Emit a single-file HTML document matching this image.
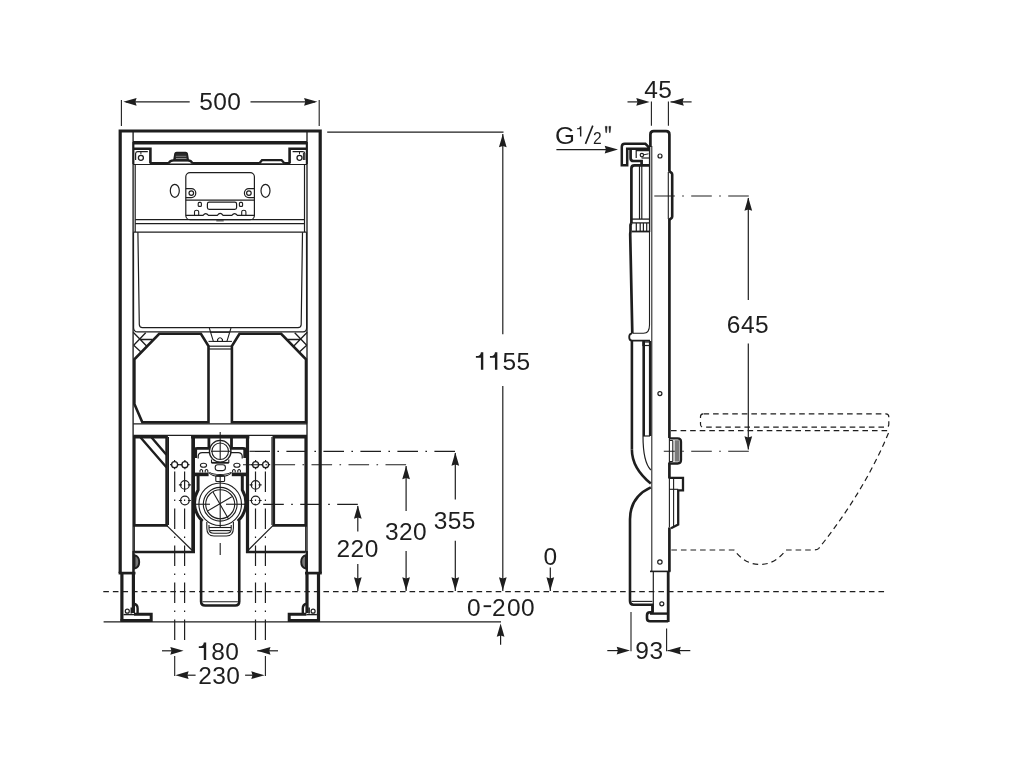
<!DOCTYPE html>
<html><head><meta charset="utf-8"><style>
html,body{margin:0;padding:0;background:#fff;width:1024px;height:768px;overflow:hidden}
svg{display:block;will-change:transform}
text{font-family:"Liberation Sans",sans-serif}
</style></head><body>
<svg width="1024" height="768" viewBox="0 0 1024 768" stroke="#1e1e1e" fill="none">
<rect x="0" y="0" width="1024" height="768" fill="#fff" stroke="none"/>
<path d="M120.2,573 V131 H320.2 V573" stroke-width="3.2" fill="none" stroke-linejoin="miter"/>
<line x1="118.6" y1="573.1" x2="135.5" y2="573.1" stroke-width="2.7" stroke-linecap="butt"/>
<line x1="305" y1="573.1" x2="321.8" y2="573.1" stroke-width="2.7" stroke-linecap="butt"/>
<line x1="133.1" y1="131" x2="133.1" y2="573" stroke-width="1.35" stroke-linecap="butt"/>
<line x1="133.4" y1="142" x2="133.4" y2="164" stroke-width="2.0" stroke-linecap="butt"/>
<line x1="307" y1="131" x2="307" y2="573" stroke-width="1.35" stroke-linecap="butt"/>
<line x1="306.8" y1="142" x2="306.8" y2="164" stroke-width="2.0" stroke-linecap="butt"/>
<line x1="133" y1="142.8" x2="307" y2="142.8" stroke-width="3.4" stroke-linecap="butt"/>
<path d="M133,148.7 H150.4 V163.5" stroke-width="2.6" fill="none" stroke-linejoin="miter"/>
<path d="M307,148.7 H289.6 V163.5" stroke-width="2.6" fill="none" stroke-linejoin="miter"/>
<line x1="150" y1="163.3" x2="290" y2="163.3" stroke-width="2.6" stroke-linecap="butt"/>
<line x1="133" y1="164.5" x2="307" y2="164.5" stroke-width="1.2" stroke-linecap="butt"/>
<path d="M135.6,160 V153.5 Q135.8,151.6 137.8,151.6 H147.8" stroke-width="1.2" fill="none" stroke-linejoin="miter"/>
<path d="M304.8,160 V153.5 Q304.6,151.6 302.6,151.6 H292.6" stroke-width="1.2" fill="none" stroke-linejoin="miter"/>
<circle cx="140.9" cy="157.8" r="2.5" stroke-width="1.3" fill="none"/>
<circle cx="299.5" cy="157.8" r="2.5" stroke-width="1.3" fill="none"/>
<line x1="140.9" y1="151.8" x2="140.9" y2="154.2" stroke-width="1.0" stroke-linecap="butt"/>
<line x1="299.5" y1="151.8" x2="299.5" y2="154.2" stroke-width="1.0" stroke-linecap="butt"/>
<line x1="303.4" y1="153" x2="303.4" y2="160" stroke-width="1.0" stroke-linecap="butt"/>
<path d="M168.6,163.5 Q169.5,160.6 173.5,160.4 H188 Q191.6,160.6 192.4,163.5" stroke-width="2.2" fill="#fff" stroke-linejoin="miter"/>
<path d="M173.9,160.4 L175,153.8 Q175.3,152.5 176.6,152.5 H185.6 Q186.9,152.5 187.2,153.8 L188.3,160.4 Z" stroke-width="1.6" fill="#2a2a2a" stroke-linejoin="miter"/>
<line x1="176" y1="156.3" x2="186.3" y2="156.3" stroke-width="0.8" stroke-linecap="butt"/>
<line x1="176" y1="158.5" x2="186.5" y2="158.5" stroke="#999" stroke-width="0.9"/>
<line x1="175.8" y1="156.3" x2="186.3" y2="156.3" stroke="#888" stroke-width="0.9"/>
<path d="M259.4,163.3 L262,160.2 H281.6 L284.4,163.3" stroke-width="2.2" fill="#fff" stroke-linejoin="miter"/>
<line x1="135.2" y1="164.5" x2="135.2" y2="232" stroke-width="1.2" stroke-linecap="butt"/>
<line x1="304.5" y1="164.5" x2="304.5" y2="232" stroke-width="1.2" stroke-linecap="butt"/>
<rect x="185.8" y="172.6" width="68.6" height="47" rx="4.2" stroke-width="1.2" fill="none"/>
<line x1="185.8" y1="200.1" x2="254.4" y2="200.1" stroke-width="1.2" stroke-linecap="butt"/>
<ellipse cx="174.8" cy="190.8" rx="4.5" ry="6.5" stroke-width="1.2" fill="none"/>
<ellipse cx="265.5" cy="190.8" rx="4.5" ry="6.5" stroke-width="1.2" fill="none"/>
<path d="M185.8,188.6 H191.3 A4.5,4.5 0 0 1 191.3,197.6 H185.8" stroke-width="1.2" fill="none" stroke-linejoin="miter"/>
<path d="M254.4,188.6 H248.9 A4.5,4.5 0 0 0 248.9,197.6 H254.4" stroke-width="1.2" fill="none" stroke-linejoin="miter"/>
<circle cx="191.3" cy="193.1" r="2.3" stroke-width="1.2" fill="none"/>
<circle cx="248.9" cy="193.1" r="2.3" stroke-width="1.2" fill="none"/>
<rect x="207.4" y="202.2" width="29.2" height="7.2" rx="1.8" stroke-width="1.2" fill="none"/>
<rect x="198.2" y="202.4" width="3.2" height="4.0" rx="1.0" stroke-width="1.1" fill="none"/>
<rect x="239.4" y="202.4" width="3.2" height="4.0" rx="1.0" stroke-width="1.1" fill="none"/>
<path d="M194.5,215.3 V211.8 Q194.5,210.2 196.6,210.2 Q198.7,210.2 198.7,211.8 V215.3" stroke-width="1.1" fill="none" stroke-linejoin="miter"/>
<path d="M241.7,215.3 V211.8 Q241.7,210.2 243.8,210.2 Q245.9,210.2 245.9,211.8 V215.3" stroke-width="1.1" fill="none" stroke-linejoin="miter"/>
<path d="M185.8,215.3 H203 Q205.7,211.8 208.5,215.3 H217.3 Q220.2,211.5 223.1,215.3 H231.8 Q234.6,211.8 237.4,215.3 H254.4" stroke-width="1.15" fill="none" stroke-linejoin="miter"/>
<rect x="216.3" y="219.6" width="7.4" height="1.9" rx="0" stroke-width="0" fill="#666"/>
<line x1="135.2" y1="219.7" x2="305" y2="219.7" stroke-width="1.2" stroke-linecap="butt"/>
<line x1="135.2" y1="223.6" x2="305" y2="223.6" stroke-width="1.2" stroke-linecap="butt"/>
<line x1="133.5" y1="232.2" x2="306.5" y2="232.2" stroke-width="1.2" stroke-linecap="butt"/>
<path d="M137.9,232.2 L139.3,324.5 Q139.4,327.6 142.5,327.6 H298 Q301.1,327.6 301.2,324.5 L302.5,232.2" stroke-width="1.2" fill="none" stroke-linejoin="miter"/>
<path d="M133.5,232.2 L133.6,328 Q134,331.9 137.5,331.9 H303 Q306.5,331.9 306.6,328 L306.5,232.2" stroke-width="1.2" fill="none" stroke-linejoin="miter"/>
<path d="M159.25,333.8 H200.9 L208.5,346 V422.2 H142.3 L134.4,404 V359.3 Z" stroke-width="2.6" fill="none" stroke-linejoin="miter"/>
<path d="M281.15,333.8 H239.5 L231.9,346 V422.2 H306 V359.3 Z" stroke-width="2.6" fill="none" stroke-linejoin="miter"/>
<path d="M133.2,332.25 L147.3,346.8 M145.7,332.7 L133.7,345.3 M140,339.5 H152.5 M133.7,345.3 L141,352" stroke-width="1.3" fill="none" stroke-linejoin="miter"/>
<path d="M307.2,332.25 L293.09999999999997,346.8 M294.7,332.7 L306.7,345.3 M300.4,339.5 H287.9 M306.7,345.3 L299.4,352" stroke-width="1.3" fill="none" stroke-linejoin="miter"/>
<path d="M209.3,328 L213.4,341.4 H226.9 L231,328" stroke-width="1.05" fill="none" stroke-linejoin="miter"/>
<line x1="210.5" y1="332.3" x2="229.5" y2="332.3" stroke-width="1.05" stroke-linecap="butt"/>
<line x1="208.5" y1="341.4" x2="231.9" y2="341.4" stroke-width="1.05" stroke-linecap="butt"/>
<line x1="208.5" y1="346.2" x2="231.9" y2="346.2" stroke-width="1.2" stroke-linecap="butt"/>
<line x1="208.5" y1="349" x2="231.9" y2="349" stroke-width="1.2" stroke-linecap="butt"/>
<path d="M217.6,341 V339.5 Q220,336 222.4,339.5 V341" stroke-width="1.2" fill="none" stroke-linejoin="miter"/>
<line x1="133.2" y1="423.9" x2="307" y2="423.9" stroke-width="1.2" stroke-linecap="butt"/>
<line x1="133.2" y1="435.4" x2="307" y2="435.4" stroke-width="1.1" stroke-linecap="butt"/>
<path d="M134.3,525.4 V437.3 H166.6 V525.4 Z" stroke-width="2.6" fill="none" stroke-linejoin="miter"/>
<line x1="133.6" y1="551" x2="133.6" y2="573" stroke-width="2.3" stroke-linecap="butt"/>
<path d="M140.6,437.5 L166.4,467.3 M151.6,437.5 L166.4,454.8" stroke-width="2.4" fill="none" stroke-linejoin="miter"/>
<line x1="134.3" y1="525.4" x2="134.3" y2="552" stroke-width="1.2" stroke-linecap="butt"/>
<path d="M134.3,552 H193.8 V437" stroke-width="2.4" fill="none" stroke-linejoin="miter"/>
<line x1="166.6" y1="525.4" x2="191.8" y2="550" stroke-width="1.2" stroke-linecap="butt"/>
<path d="M305.7,525.4 V437.3 H273.8 V525.4 Z" stroke-width="2.6" fill="none" stroke-linejoin="miter"/>
<line x1="306.8" y1="551" x2="306.8" y2="573" stroke-width="2.3" stroke-linecap="butt"/>
<path d="M247.1,437 V552 H305.7" stroke-width="2.4" fill="none" stroke-linejoin="miter"/>
<line x1="273.2" y1="525.4" x2="248.4" y2="550" stroke-width="1.2" stroke-linecap="butt"/>
<line x1="305.7" y1="525.4" x2="305.7" y2="552" stroke-width="1.2" stroke-linecap="butt"/>
<line x1="168.4" y1="437" x2="168.4" y2="525" stroke-width="1.2" stroke-linecap="butt"/>
<line x1="272" y1="437" x2="272" y2="525" stroke-width="1.2" stroke-linecap="butt"/>
<path d="M134.5,555.2 Q139.2,556.5 139.2,561.9 Q139.2,567.3 134.5,568.6 Z" stroke-width="1.9" fill="#777" stroke-linejoin="miter"/>
<path d="M305.9,555.2 Q301.2,556.5 301.2,561.9 Q301.2,567.3 305.9,568.6 Z" stroke-width="1.9" fill="#777" stroke-linejoin="miter"/>
<line x1="121.9" y1="573" x2="121.9" y2="621.5" stroke-width="3.2" stroke-linecap="butt"/>
<line x1="133.4" y1="573" x2="133.4" y2="613" stroke-width="3.2" stroke-linecap="butt"/>
<line x1="307" y1="573" x2="307" y2="613" stroke-width="3.2" stroke-linecap="butt"/>
<line x1="318.5" y1="573" x2="318.5" y2="621.5" stroke-width="3.2" stroke-linecap="butt"/>
<path d="M134,614.2 H151.2 V620.6 H120.5" stroke-width="3.0" fill="none" stroke-linejoin="miter"/>
<line x1="123.5" y1="614.6" x2="134" y2="614.6" stroke-width="1.4" stroke-linecap="butt"/>
<path d="M306.4,614.2 H289.2 V620.6 H319.9" stroke-width="3.0" fill="none" stroke-linejoin="miter"/>
<line x1="316.9" y1="614.6" x2="306.4" y2="614.6" stroke-width="1.4" stroke-linecap="butt"/>
<path d="M133.4,603.8 Q137.6,604.2 137.6,608.5 V613.5" stroke-width="2.4" fill="none" stroke-linejoin="miter"/>
<path d="M307,603.8 Q302.8,604.2 302.8,608.5 V613.5" stroke-width="2.4" fill="none" stroke-linejoin="miter"/>
<circle cx="127.3" cy="611.2" r="2.0" stroke-width="1.2" fill="none"/>
<line x1="131.3" y1="607.5" x2="131.3" y2="613.5" stroke-width="1.6" stroke-linecap="butt"/>
<circle cx="313.1" cy="611.2" r="2.0" stroke-width="1.2" fill="none"/>
<line x1="309.1" y1="607.5" x2="309.1" y2="613.5" stroke-width="1.6" stroke-linecap="butt"/>
<line x1="191.1" y1="436.9" x2="249.3" y2="436.9" stroke-width="3.0" stroke-linecap="butt"/>
<line x1="192.6" y1="436" x2="192.6" y2="552" stroke-width="2.6" stroke-linecap="butt"/>
<line x1="247.8" y1="436" x2="247.8" y2="552" stroke-width="2.6" stroke-linecap="butt"/>
<line x1="208.9" y1="437" x2="208.9" y2="448" stroke-width="2.8" stroke-linecap="butt"/>
<line x1="231.5" y1="437" x2="231.5" y2="448" stroke-width="2.8" stroke-linecap="butt"/>
<path d="M194,458 V451.5 Q194,448.4 197.5,448.4 H209.5" stroke-width="2.6" fill="none" stroke-linejoin="miter"/>
<line x1="195.6" y1="449" x2="195.6" y2="458" stroke-width="3.0" stroke-linecap="butt"/>
<path d="M246.4,458 V451.5 Q246.4,448.4 242.9,448.4 H230.9" stroke-width="2.6" fill="none" stroke-linejoin="miter"/>
<line x1="244.8" y1="449" x2="244.8" y2="458" stroke-width="3.0" stroke-linecap="butt"/>
<path d="M209.8,452.6 H202.2 Q198.6,452.6 198.2,456 V458.6" stroke-width="1.2" fill="none" stroke-linejoin="miter"/>
<path d="M230.6,452.6 H238.2 Q241.8,452.6 242.2,456 V458.6" stroke-width="1.2" fill="none" stroke-linejoin="miter"/>
<circle cx="220.2" cy="451.25" r="10.8" stroke-width="1.3" fill="none"/>
<circle cx="220.2" cy="451.25" r="8.3" stroke-width="1.1" fill="none"/>
<line x1="220.2" y1="432" x2="220.2" y2="459" stroke-width="1.1" stroke-linecap="butt"/>
<line x1="211" y1="451.25" x2="231" y2="451.25" stroke-width="1.1" stroke-linecap="butt"/>
<path d="M211.5,459.5 V462.5 H228.8 V459.5" stroke-width="1.1" fill="none" stroke-linejoin="miter"/>
<line x1="211.5" y1="462.8" x2="228.8" y2="462.8" stroke-width="1.8" stroke-linecap="butt"/>
<rect x="215.2" y="464.8" width="10.2" height="5.8" rx="2.5" stroke-width="1.1" fill="none"/>
<ellipse cx="203.5" cy="465.3" rx="3.1" ry="2.0" stroke-width="1.1" fill="none"/>
<ellipse cx="236.9" cy="465.3" rx="3.1" ry="2.0" stroke-width="1.1" fill="none"/>
<path d="M200,472.5 V470.5 Q201.3,468.6 202.6,470.5 V472.5 M205.2,472.5 V470.5 Q206.5,468.6 207.8,470.5 V472.5" stroke-width="1.05" fill="none" stroke-linejoin="miter"/>
<path d="M232.6,472.5 V470.5 Q233.9,468.6 235.2,470.5 V472.5 M237.8,472.5 V470.5 Q239.1,468.6 240.4,470.5 V472.5" stroke-width="1.05" fill="none" stroke-linejoin="miter"/>
<line x1="192.6" y1="474.4" x2="208.6" y2="474.4" stroke-width="3.6" stroke-linecap="butt"/>
<line x1="231.8" y1="474.4" x2="247.8" y2="474.4" stroke-width="3.6" stroke-linecap="butt"/>
<path d="M208.6,472.5 Q212,476.5 220.2,476.5 Q228.4,476.5 231.8,472.5" stroke-width="1.1" fill="none" stroke-linejoin="miter"/>
<path d="M209.5,472.4 Q213,474.5 220.2,474.5 Q227.4,474.5 230.9,472.4" stroke-width="1.05" fill="none" stroke-linejoin="miter"/>
<rect x="215.8" y="475.6" width="8.8" height="5.9" rx="1" stroke-width="1.1" fill="none"/>
<line x1="220.2" y1="475.6" x2="220.2" y2="481.5" stroke-width="1.05" stroke-linecap="butt"/>
<path d="M198.1,476 V490 A25,25 0 0 0 202.6,521.2" stroke-width="3.0" fill="none" stroke-linejoin="miter"/>
<path d="M242.3,476 V490 A25,25 0 0 1 237.8,521.2" stroke-width="3.0" fill="none" stroke-linejoin="miter"/>
<circle cx="220.2" cy="504.25" r="21.3" stroke-width="1.1" fill="none"/>
<circle cx="220.2" cy="504.25" r="16.9" stroke-width="1.1" fill="none"/>
<circle cx="220.2" cy="504.25" r="14.5" stroke-width="1.1" fill="none"/>
<line x1="196" y1="504.25" x2="210" y2="504.25" stroke-width="1.1" stroke-linecap="butt"/>
<line x1="226" y1="504.25" x2="245" y2="504.25" stroke-width="1.1" stroke-linecap="butt"/>
<line x1="220.2" y1="481.5" x2="220.2" y2="527" stroke-width="1.1" stroke-linecap="butt"/>
<path d="M213,492 L228.5,519 M231.8,496.8 L207.4,511.1" stroke-width="1.1" fill="none" stroke-linejoin="miter"/>
<path d="M206.8,521.9 V528 Q206.8,536 214,536 H226.4 Q233.4,536 233.4,528 V521.9" stroke-width="1.1" fill="none" stroke-linejoin="miter"/>
<path d="M209,525 V529 Q209,533.3 214,533.3 H226.4 Q231.2,533.3 231.2,529 V525" stroke-width="1.1" fill="none" stroke-linejoin="miter"/>
<line x1="209" y1="527.5" x2="231.2" y2="527.5" stroke-width="1.1" stroke-linecap="butt"/>
<line x1="210" y1="530.6" x2="230.4" y2="530.6" stroke-width="1.1" stroke-linecap="butt"/>
<path d="M201.1,520.6 V601.5 Q201.1,605.5 205.1,605.5 H235.2 Q239.25,605.5 239.25,601.5 V520.6" stroke-width="2.6" fill="none" stroke-linejoin="miter"/>
<line x1="220.2" y1="543" x2="220.2" y2="555" stroke-width="1.1" stroke-linecap="butt"/>
<line x1="202.5" y1="601.8" x2="237.9" y2="601.8" stroke-width="1.1" stroke-linecap="butt"/>
<circle cx="174.6" cy="464.7" r="3.0" stroke-width="1.3" fill="none"/>
<path d="M170.0,464.7 H172.0 M177.2,464.7 H179.2 M174.6,460.1 V462.1 M174.6,467.3 V469.3" stroke-width="1.2" fill="none" stroke-linejoin="miter"/>
<circle cx="184.9" cy="464.7" r="3.0" stroke-width="1.3" fill="none"/>
<path d="M180.3,464.7 H182.3 M187.5,464.7 H189.5 M184.9,460.1 V462.1 M184.9,467.3 V469.3" stroke-width="1.2" fill="none" stroke-linejoin="miter"/>
<circle cx="255.6" cy="464.7" r="3.0" stroke-width="1.3" fill="none"/>
<path d="M251.0,464.7 H253.0 M258.2,464.7 H260.2 M255.6,460.1 V462.1 M255.6,467.3 V469.3" stroke-width="1.2" fill="none" stroke-linejoin="miter"/>
<circle cx="265.6" cy="464.7" r="3.0" stroke-width="1.3" fill="none"/>
<path d="M261.0,464.7 H263.0 M268.20000000000005,464.7 H270.20000000000005 M265.6,460.1 V462.1 M265.6,467.3 V469.3" stroke-width="1.2" fill="none" stroke-linejoin="miter"/>
<circle cx="184.9" cy="484.9" r="4.3" stroke-width="1.2" fill="none"/>
<circle cx="184.9" cy="500.5" r="4.3" stroke-width="1.2" fill="none"/>
<path d="M178.9,484.9 H181.9 M187.9,484.9 H190.9 M178.9,500.5 H181.9 M187.9,500.5 H190.9" stroke-width="1.1" fill="none" stroke-linejoin="miter"/>
<circle cx="255.6" cy="484.9" r="4.3" stroke-width="1.2" fill="none"/>
<circle cx="255.6" cy="500.5" r="4.3" stroke-width="1.2" fill="none"/>
<path d="M249.6,484.9 H252.6 M258.6,484.9 H261.6 M249.6,500.5 H252.6 M258.6,500.5 H261.6" stroke-width="1.1" fill="none" stroke-linejoin="miter"/>
<line x1="174.7" y1="640" x2="174.7" y2="468" stroke-width="1.2" stroke-dasharray="20.6 7.4 1.6 7.4" stroke-linecap="butt"/>
<line x1="184.6" y1="640" x2="184.6" y2="468" stroke-width="1.2" stroke-dasharray="20.6 7.4 1.6 7.4" stroke-linecap="butt"/>
<line x1="255.5" y1="640" x2="255.5" y2="468" stroke-width="1.2" stroke-dasharray="20.6 7.4 1.6 7.4" stroke-linecap="butt"/>
<line x1="265.4" y1="640" x2="265.4" y2="468" stroke-width="1.2" stroke-dasharray="20.6 7.4 1.6 7.4" stroke-linecap="butt"/>
<line x1="455" y1="451.3" x2="249.5" y2="451.3" stroke-width="1.15" stroke-dasharray="20.6 7.4 1.6 7.4" stroke-linecap="butt"/>
<line x1="406.1" y1="464.7" x2="243" y2="464.7" stroke-width="1.15" stroke-dasharray="20.6 7.4 1.6 7.4" stroke-linecap="butt"/>
<line x1="178.6" y1="464.7" x2="181.9" y2="464.7" stroke-width="1.1" stroke-linecap="butt"/>
<line x1="258.6" y1="464.7" x2="262.6" y2="464.7" stroke-width="1.1" stroke-linecap="butt"/>
<line x1="357.8" y1="504.4" x2="244" y2="504.4" stroke-width="1.15" stroke-dasharray="20.6 7.4 1.6 7.4" stroke-linecap="butt"/>
<line x1="121.4" y1="100" x2="121.4" y2="126" stroke-width="1.1" stroke-linecap="butt"/>
<line x1="319.2" y1="100" x2="319.2" y2="126" stroke-width="1.1" stroke-linecap="butt"/>
<line x1="126" y1="101.8" x2="189.7" y2="101.8" stroke-width="1.2" stroke-linecap="butt"/>
<path d="M123.30,101.80 L136.60,97.95 L135.40,101.80 L136.60,105.65Z" fill="#1e1e1e" stroke="none"/>
<line x1="250.5" y1="101.8" x2="315" y2="101.8" stroke-width="1.2" stroke-linecap="butt"/>
<path d="M317.40,101.80 L304.10,97.95 L305.30,101.80 L304.10,105.65Z" fill="#1e1e1e" stroke="none"/>
<text x="199.22" y="109.8" font-size="24.5" fill="#1e1e1e" stroke="none">5</text>
<text x="213.27" y="109.8" font-size="24.5" fill="#1e1e1e" stroke="none">0</text>
<text x="227.32" y="109.8" font-size="24.5" fill="#1e1e1e" stroke="none">0</text>
<line x1="327.2" y1="132.2" x2="503.5" y2="132.2" stroke-width="1.2" stroke-linecap="butt"/>
<line x1="502.8" y1="134" x2="502.8" y2="334.3" stroke-width="1.2" stroke-linecap="butt"/>
<path d="M502.80,134.00 L498.95,147.30 L502.80,146.10 L506.65,147.30Z" fill="#1e1e1e" stroke="none"/>
<line x1="502.8" y1="386" x2="502.8" y2="591" stroke-width="1.2" stroke-linecap="butt"/>
<path d="M502.80,590.50 L498.95,577.20 L502.80,578.40 L506.65,577.20Z" fill="#1e1e1e" stroke="none"/>
<path d="M480.90,352.30 H483.30 V369.70 H480.90 V357.70 H475.90 V355.90 H478.10 Q480.50,355.70 480.90,352.30 Z" fill="#1e1e1e" stroke="none"/>
<path d="M494.95,352.30 H497.35 V369.70 H494.95 V357.70 H489.95 V355.90 H492.15 Q494.55,355.70 494.95,352.30 Z" fill="#1e1e1e" stroke="none"/>
<text x="502.40" y="369.7" font-size="24.5" fill="#1e1e1e" stroke="none">5</text>
<text x="516.45" y="369.7" font-size="24.5" fill="#1e1e1e" stroke="none">5</text>
<line x1="103.3" y1="591.6" x2="886" y2="591.6" stroke-width="1.25" stroke-dasharray="5.6 3.97" stroke-linecap="butt"/>
<line x1="103.6" y1="621.8" x2="501" y2="621.8" stroke-width="1.3" stroke-linecap="butt"/>
<line x1="500.6" y1="644.8" x2="500.6" y2="630" stroke-width="1.2" stroke-linecap="butt"/>
<path d="M500.60,623.50 L496.75,636.80 L500.60,635.60 L504.45,636.80Z" fill="#1e1e1e" stroke="none"/>
<text x="466.94" y="615.8" font-size="24.5" fill="#1e1e1e" stroke="none">0</text>
<line x1="483.6" y1="606.2" x2="491.1" y2="606.2" stroke-width="1.9" stroke-linecap="butt"/>
<text x="491.97" y="615.8" font-size="24.5" fill="#1e1e1e" stroke="none">2</text>
<text x="507.04" y="615.8" font-size="24.5" fill="#1e1e1e" stroke="none">0</text>
<text x="521.04" y="615.8" font-size="24.5" fill="#1e1e1e" stroke="none">0</text>
<line x1="455.3" y1="453" x2="455.3" y2="499.4" stroke-width="1.2" stroke-linecap="butt"/>
<path d="M455.30,452.50 L451.45,465.80 L455.30,464.60 L459.15,465.80Z" fill="#1e1e1e" stroke="none"/>
<line x1="455.3" y1="540.8" x2="455.3" y2="591" stroke-width="1.2" stroke-linecap="butt"/>
<path d="M455.30,590.50 L451.45,577.20 L455.30,578.40 L459.15,577.20Z" fill="#1e1e1e" stroke="none"/>
<text x="433.77" y="529" font-size="24.5" fill="#1e1e1e" stroke="none">3</text>
<text x="447.82" y="529" font-size="24.5" fill="#1e1e1e" stroke="none">5</text>
<text x="461.87" y="529" font-size="24.5" fill="#1e1e1e" stroke="none">5</text>
<line x1="406.1" y1="466" x2="406.1" y2="511" stroke-width="1.2" stroke-linecap="butt"/>
<path d="M406.10,466.00 L402.25,479.30 L406.10,478.10 L409.95,479.30Z" fill="#1e1e1e" stroke="none"/>
<line x1="406.1" y1="551" x2="406.1" y2="591" stroke-width="1.2" stroke-linecap="butt"/>
<path d="M406.10,590.50 L402.25,577.20 L406.10,578.40 L409.95,577.20Z" fill="#1e1e1e" stroke="none"/>
<text x="384.97" y="540" font-size="24.5" fill="#1e1e1e" stroke="none">3</text>
<text x="399.02" y="540" font-size="24.5" fill="#1e1e1e" stroke="none">2</text>
<text x="413.07" y="540" font-size="24.5" fill="#1e1e1e" stroke="none">0</text>
<line x1="357.8" y1="506" x2="357.8" y2="531.4" stroke-width="1.2" stroke-linecap="butt"/>
<path d="M357.80,505.50 L353.95,518.80 L357.80,517.60 L361.65,518.80Z" fill="#1e1e1e" stroke="none"/>
<line x1="357.8" y1="564" x2="357.8" y2="591" stroke-width="1.2" stroke-linecap="butt"/>
<path d="M357.80,590.50 L353.95,577.20 L357.80,578.40 L361.65,577.20Z" fill="#1e1e1e" stroke="none"/>
<text x="336.57" y="557" font-size="24.5" fill="#1e1e1e" stroke="none">2</text>
<text x="350.62" y="557" font-size="24.5" fill="#1e1e1e" stroke="none">2</text>
<text x="364.67" y="557" font-size="24.5" fill="#1e1e1e" stroke="none">0</text>
<line x1="550.3" y1="567.5" x2="550.3" y2="591" stroke-width="1.2" stroke-linecap="butt"/>
<path d="M550.30,590.50 L546.45,577.20 L550.30,578.40 L554.15,577.20Z" fill="#1e1e1e" stroke="none"/>
<text x="543.44" y="564.7" font-size="24.5" fill="#1e1e1e" stroke="none">0</text>
<path d="M203.80,642.60 H206.20 V660.00 H203.80 V648.00 H198.80 V646.20 H201.00 Q203.40,646.00 203.80,642.60 Z" fill="#1e1e1e" stroke="none"/>
<text x="211.25" y="660" font-size="24.5" fill="#1e1e1e" stroke="none">8</text>
<text x="225.30" y="660" font-size="24.5" fill="#1e1e1e" stroke="none">0</text>
<text x="198.17" y="683.5" font-size="24.5" fill="#1e1e1e" stroke="none">2</text>
<text x="212.22" y="683.5" font-size="24.5" fill="#1e1e1e" stroke="none">3</text>
<text x="226.27" y="683.5" font-size="24.5" fill="#1e1e1e" stroke="none">0</text>
<line x1="162" y1="650.8" x2="176" y2="650.8" stroke-width="1.2" stroke-linecap="butt"/>
<path d="M183.60,650.80 L170.30,646.95 L171.50,650.80 L170.30,654.65Z" fill="#1e1e1e" stroke="none"/>
<line x1="257.2" y1="650.8" x2="278" y2="650.8" stroke-width="1.2" stroke-linecap="butt"/>
<path d="M257.20,650.80 L270.50,646.95 L269.30,650.80 L270.50,654.65Z" fill="#1e1e1e" stroke="none"/>
<line x1="195.6" y1="675.2" x2="185" y2="675.2" stroke-width="1.2" stroke-linecap="butt"/>
<path d="M175.30,675.20 L188.60,671.35 L187.40,675.20 L188.60,679.05Z" fill="#1e1e1e" stroke="none"/>
<line x1="245.1" y1="675.2" x2="255" y2="675.2" stroke-width="1.2" stroke-linecap="butt"/>
<path d="M264.60,675.20 L251.30,671.35 L252.50,675.20 L251.30,679.05Z" fill="#1e1e1e" stroke="none"/>
<line x1="174.7" y1="656" x2="174.7" y2="676" stroke-width="1.1" stroke-linecap="butt"/>
<line x1="265.4" y1="656" x2="265.4" y2="676" stroke-width="1.1" stroke-linecap="butt"/>
<text x="644.14" y="97.7" font-size="24.5" fill="#1e1e1e" stroke="none">4</text>
<text x="658.19" y="97.7" font-size="24.5" fill="#1e1e1e" stroke="none">5</text>
<line x1="627.5" y1="101.9" x2="640" y2="101.9" stroke-width="1.2" stroke-linecap="butt"/>
<path d="M649.60,101.90 L636.30,98.05 L637.50,101.90 L636.30,105.75Z" fill="#1e1e1e" stroke="none"/>
<line x1="670.5" y1="101.9" x2="691.6" y2="101.9" stroke-width="1.2" stroke-linecap="butt"/>
<path d="M670.50,101.90 L683.80,98.05 L682.60,101.90 L683.80,105.75Z" fill="#1e1e1e" stroke="none"/>
<line x1="651.4" y1="101.6" x2="651.4" y2="125.8" stroke-width="1.1" stroke-linecap="butt"/>
<line x1="668.4" y1="101.6" x2="668.4" y2="125.8" stroke-width="1.1" stroke-linecap="butt"/>
<text transform="translate(554.9,143.9) scale(1.07,1)" font-size="24" fill="#1e1e1e" stroke="none">G</text>
<path d="M579.95,126.13 H581.37 V136.40 H579.95 V129.32 H577.00 V128.26 H578.30 Q579.71,128.14 579.95,126.13 Z" fill="#1e1e1e" stroke="none"/>
<line x1="585.5" y1="143.9" x2="592.8" y2="125.6" stroke-width="1.6" stroke-linecap="butt"/>
<text x="593.1" y="143.9" font-size="15.6" fill="#1e1e1e" stroke="none">2</text>
<path d="M605.3,126.4 L605.9,132.6 L606.5,132.6 L607.1,126.4 Z M608.9,126.4 L609.5,132.6 L610.1,132.6 L610.7,126.4 Z" stroke-width="0.6" fill="#1e1e1e" stroke-linejoin="miter"/>
<line x1="556.4" y1="149.6" x2="610" y2="149.6" stroke-width="1.25" stroke-linecap="butt"/>
<path d="M618.00,149.60 L604.70,145.75 L605.90,149.60 L604.70,153.45Z" fill="#1e1e1e" stroke="none"/>
<path d="M650.4,147 V134.5 Q650.4,131.2 653.7,131.2 H666.1 Q669.4,131.2 669.4,134.5 V171.8" stroke-width="2.7" fill="none" stroke-linejoin="miter"/>
<line x1="669.4" y1="219" x2="669.4" y2="438" stroke-width="2.7" stroke-linecap="butt"/>
<line x1="668.3" y1="172" x2="668.3" y2="219" stroke-width="1.1" stroke-linecap="butt"/>
<line x1="669.4" y1="527.5" x2="669.4" y2="571.4" stroke-width="2.7" stroke-linecap="butt"/>
<line x1="649.6" y1="146" x2="649.6" y2="232" stroke-width="1.4" stroke-linecap="butt"/>
<line x1="651.8" y1="146" x2="651.8" y2="571.4" stroke-width="1.05" stroke-linecap="butt"/>
<line x1="650" y1="571.4" x2="670.5" y2="571.4" stroke-width="1.6" stroke-linecap="butt"/>
<circle cx="660" cy="156" r="2.0" stroke-width="1.2" fill="none"/>
<path d="M669.2,171.2 L671.2,172.6 Q672.2,173.3 672.2,174.5 V216.5 Q672.2,217.7 671.2,218.4 L669.2,219.8" stroke-width="2.6" fill="none" stroke-linejoin="miter"/>
<path d="M649.3,147.6 L645.4,143.8 H624.8 Q621.8,143.8 621.8,146.8 V165.2 H627.2 V148.7 H649" stroke-width="2.5" fill="none" stroke-linejoin="miter"/>
<path d="M630.6,149.2 V158.2 Q630.6,161 633.4,161 H641.6 V166" stroke-width="2.7" fill="none" stroke-linejoin="miter"/>
<path d="M636.2,158 V150.6 H649.5" stroke-width="1.2" fill="none" stroke-linejoin="miter"/>
<line x1="641.6" y1="158" x2="649.5" y2="158" stroke-width="1.2" stroke-linecap="butt"/>
<circle cx="641.9" cy="155.1" r="1.7" stroke-width="1.2" fill="none"/>
<line x1="643.6" y1="154.8" x2="648.5" y2="153.8" stroke-width="1.0" stroke-linecap="butt"/>
<path d="M631.4,222.9 V168.5 Q631.4,165.4 634.5,165.4 H649.5" stroke-width="2.7" fill="none" stroke-linejoin="miter"/>
<path d="M631.3,222.9 L630.5,225 V231.5 L630.2,234 L632.3,333.3" stroke-width="2.7" fill="none" stroke-linejoin="miter"/>
<line x1="639.5" y1="166" x2="639.5" y2="219.1" stroke-width="1.2" stroke-linecap="butt"/>
<line x1="641.8" y1="166" x2="641.8" y2="219.1" stroke-width="1.2" stroke-linecap="butt"/>
<line x1="632" y1="219.1" x2="649.5" y2="219.1" stroke-width="1.3" stroke-linecap="butt"/>
<line x1="632" y1="222.9" x2="649.5" y2="222.9" stroke-width="1.3" stroke-linecap="butt"/>
<line x1="632" y1="231.5" x2="650" y2="231.5" stroke-width="1.8" stroke-linecap="butt"/>
<line x1="636.3" y1="223" x2="636.3" y2="231.5" stroke-width="1.2" stroke-linecap="butt"/>
<line x1="640.2" y1="223" x2="640.2" y2="231.5" stroke-width="1.2" stroke-linecap="butt"/>
<line x1="643.4" y1="223" x2="643.4" y2="231.5" stroke-width="1.2" stroke-linecap="butt"/>
<line x1="646.7" y1="223" x2="646.7" y2="231.5" stroke-width="1.2" stroke-linecap="butt"/>
<path d="M632.4,333.3 H643.5 Q649.5,333.3 649.5,325 V231.5" stroke-width="1.1" fill="none" stroke-linejoin="miter"/>
<path d="M632,333.3 Q629.2,333.5 629.2,337 Q629.2,340.6 632,340.6 H650" stroke-width="1.8" fill="none" stroke-linejoin="miter"/>
<line x1="631.9" y1="340.6" x2="631.9" y2="449.7" stroke-width="2.6" stroke-linecap="butt"/>
<path d="M631.9,449.7 Q631.9,468 650.8,483.5" stroke-width="2.6" fill="none" stroke-linejoin="miter"/>
<line x1="643.7" y1="341" x2="643.7" y2="436" stroke-width="2.6" stroke-linecap="butt"/>
<path d="M643,436 Q643,462 650.8,470" stroke-width="1.2" fill="none" stroke-linejoin="miter"/>
<line x1="643" y1="436" x2="650" y2="436" stroke-width="1.2" stroke-linecap="butt"/>
<line x1="650.1" y1="341" x2="650.1" y2="436" stroke-width="2.4" stroke-linecap="butt"/>
<rect x="643" y="342" width="7" height="3.5" rx="0" stroke-width="1.2" fill="none"/>
<path d="M650.8,487.4 Q630,497 630,519.3 V601 Q630,604.7 633.5,604.7 H652.4 V612.2 H650 Q647,612.2 647,615.2 V618.3 Q647,621.3 650,621.3 H668.2" stroke-width="2.6" fill="none" stroke-linejoin="miter"/>
<line x1="631.5" y1="601.4" x2="652.4" y2="601.4" stroke-width="1.1" stroke-linecap="butt"/>
<line x1="650" y1="613.6" x2="668.2" y2="613.6" stroke-width="2.4" stroke-linecap="butt"/>
<line x1="669.4" y1="438" x2="669.4" y2="527.5" stroke-width="1.1" stroke-linecap="butt"/>
<line x1="669.4" y1="462.5" x2="669.4" y2="478.5" stroke-width="2.7" stroke-linecap="butt"/>
<path d="M669.6,438.3 H677.6 Q681,438.3 681,441.8 V460 Q681,463.5 677.6,463.5 H669.6" stroke-width="2.3" fill="none" stroke-linejoin="miter"/>
<rect x="674.6" y="440.2" width="4.9" height="21.4" rx="0" stroke-width="0" fill="#7a7a7a"/>
<line x1="672.8" y1="440.5" x2="672.8" y2="461.5" stroke-width="1.1" stroke-linecap="butt"/>
<line x1="669.4" y1="440.5" x2="672.8" y2="440.5" stroke-width="1.0" stroke-linecap="butt"/>
<line x1="669.4" y1="461.5" x2="672.8" y2="461.5" stroke-width="1.0" stroke-linecap="butt"/>
<path d="M669.4,477.9 H683 V490.4 H678.2 V524.6 L671,528.2" stroke-width="2.3" fill="none" stroke-linejoin="miter"/>
<line x1="673.6" y1="478" x2="673.6" y2="527" stroke-width="1.1" stroke-linecap="butt"/>
<line x1="669.4" y1="489.3" x2="678.2" y2="489.3" stroke-width="1.1" stroke-linecap="butt"/>
<circle cx="659.9" cy="393.6" r="2.0" stroke-width="1.2" fill="none"/>
<circle cx="659.9" cy="562" r="2.2" stroke-width="1.2" fill="none"/>
<circle cx="661.8" cy="603.8" r="2.0" stroke-width="1.2" fill="none"/>
<line x1="653.3" y1="571.9" x2="653.3" y2="612.5" stroke-width="1.2" stroke-linecap="butt"/>
<line x1="668.2" y1="571.4" x2="668.2" y2="622" stroke-width="2.8" stroke-linecap="butt"/>
<text x="635.35" y="658.5" font-size="24.5" fill="#1e1e1e" stroke="none">9</text>
<text x="649.40" y="658.5" font-size="24.5" fill="#1e1e1e" stroke="none">3</text>
<line x1="631" y1="612" x2="631" y2="651.2" stroke-width="1.1" stroke-linecap="butt"/>
<line x1="666.6" y1="628.4" x2="666.6" y2="651.2" stroke-width="1.1" stroke-linecap="butt"/>
<line x1="607.3" y1="650.6" x2="620" y2="650.6" stroke-width="1.2" stroke-linecap="butt"/>
<path d="M630.00,650.60 L616.70,646.75 L617.90,650.60 L616.70,654.45Z" fill="#1e1e1e" stroke="none"/>
<line x1="667.5" y1="650.6" x2="690.3" y2="650.6" stroke-width="1.2" stroke-linecap="butt"/>
<path d="M667.50,650.60 L680.80,646.75 L679.60,650.60 L680.80,654.45Z" fill="#1e1e1e" stroke="none"/>
<line x1="748.8" y1="196" x2="654.3" y2="196" stroke-width="1.15" stroke-dasharray="20.6 7.4 1.6 7.4" stroke-linecap="butt"/>
<line x1="748.3" y1="198" x2="748.3" y2="299.9" stroke-width="1.2" stroke-linecap="butt"/>
<path d="M748.30,197.50 L744.45,210.80 L748.30,209.60 L752.15,210.80Z" fill="#1e1e1e" stroke="none"/>
<line x1="748.3" y1="343.6" x2="748.3" y2="449.6" stroke-width="1.2" stroke-linecap="butt"/>
<path d="M748.30,449.60 L744.45,436.30 L748.30,437.50 L752.15,436.30Z" fill="#1e1e1e" stroke="none"/>
<text x="726.86" y="333.3" font-size="24.5" fill="#1e1e1e" stroke="none">6</text>
<text x="740.91" y="333.3" font-size="24.5" fill="#1e1e1e" stroke="none">4</text>
<text x="754.96" y="333.3" font-size="24.5" fill="#1e1e1e" stroke="none">5</text>
<line x1="748.8" y1="451.2" x2="663.8" y2="451.2" stroke-width="1.15" stroke-dasharray="20.6 7.4 1.6 7.4" stroke-linecap="butt"/>
<path d="M703.5,413.8 H885.8 Q888.8,413.8 888.8,416.8 V424.2 Q888.8,427.2 885.8,427.2 H703.5 Q700.5,427.2 700.5,424.2 V416.8 Q700.5,413.8 703.5,413.8 Z" stroke-width="1.2" fill="none" stroke-dasharray="5.6 3.97" stroke-linejoin="miter"/>
<line x1="671" y1="430.7" x2="888.8" y2="430.7" stroke-width="1.2" stroke-dasharray="5.6 3.97" stroke-linecap="butt"/>
<path d="M888.5,433 Q864,492 818.6,548.6 Q817,550 814,550 H786 Q775,564.5 760,564.5 Q745,564.5 734,550 H671" stroke-width="1.2" fill="none" stroke-dasharray="5.6 3.97" stroke-linejoin="miter"/>
</svg>
</body></html>
